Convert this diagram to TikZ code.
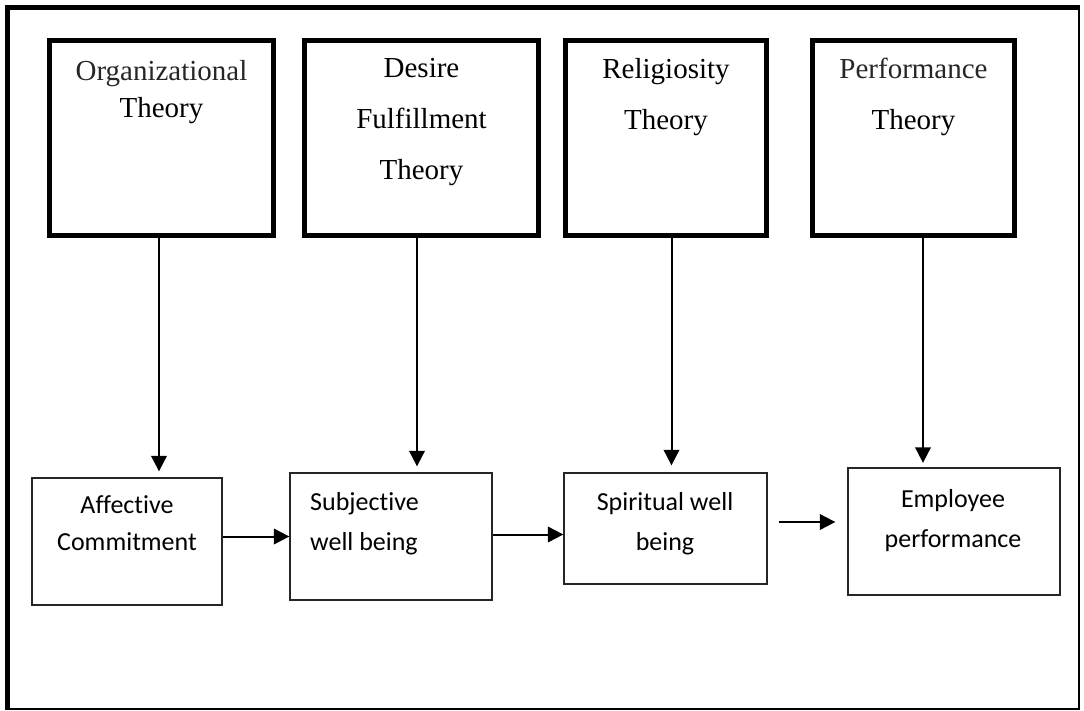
\documentclass[tikz,border=0pt]{standalone}
\usepackage{fontspec}
\setmainfont{Liberation Serif}
\newfontfamily\bodyfont[Ligatures=NoCommon]{Carlito}
\usetikzlibrary{arrows.meta}

\begin{document}
\begin{tikzpicture}[x=1pt,y=-1pt,
  theorybox/.style={draw, line width=5pt, minimum width=#1, minimum height=195pt, inner sep=0pt},
  theorytext/.style={anchor=north, align=center, inner sep=0pt, font=\fontsize{29}{51}\selectfont},
  varbox/.style={draw=black!85, line width=1.3pt, inner sep=0pt},
  vartext/.style={anchor=north, inner sep=0pt, font=\bodyfont\fontsize{26}{40}\selectfont},
  flow/.style={line width=2pt, -{Triangle[length=15.5pt,width=15.5pt]}},
  framethick/.style={line width=5pt},
  framethin/.style={line width=1.8pt}
]
\useasboundingbox (0,0) rectangle (1084,711);

% outer frame: heavy top and left edges, light right and bottom edges
\draw[framethick] (7.5,5) -- (7.5,710.2);
\draw[framethick] (5,7.5) -- (1079.9,7.5);
\draw[framethin] (1079,5) -- (1079,710.2);
\draw[framethin] (5,709.3) -- (1079.9,709.3);

% theory boxes
\node[theorybox=224pt] (t1) at (161.5,138) {};
\node[theorybox=234pt] (t2) at (421.5,138) {};
\node[theorybox=201pt] (t3) at (666,138) {};
\node[theorybox=202pt] (t4) at (913.5,138) {};

\node[theorytext, font=\fontsize{29}{37}\selectfont] (t1txt) at (161.5,60)
  {\textcolor{black!85}{Organizational}\\Theory};
\node[theorytext] (t2txt) at (421.5,58) {Desire\\Fulfillment\\Theory};
\node[theorytext] (t3txt) at (666,58) {Religiosity\\Theory};
\node[theorytext] (t4txt) at (913.5,58) {\textcolor{black!85}{Performance}\\Theory};

% construct boxes
\node[varbox, minimum width=190pt, minimum height=127pt] (A) at (127,541.5) {};
\node[varbox, minimum width=202pt, minimum height=127pt] (B) at (391,536.5) {};
\node[varbox, minimum width=203pt, minimum height=111pt] (C) at (665.5,528.5) {};
\node[varbox, minimum width=212pt, minimum height=127pt] (D) at (954,531.5) {};

\node[vartext, align=center, font=\bodyfont\fontsize{26}{37}\selectfont] (Atxt) at (127,495) {Affective\\Commitment};
\node[vartext, align=left, anchor=north west] (Btxt) at (310,492) {Subjective\\well being};
\node[vartext, align=center] (Ctxt) at (665,492) {Spiritual well\\being};
\node[vartext, align=center] (Dtxt) at (953,489) {Employee\\performance};

% theory-to-construct arrows
\draw[flow] ([xshift=-2.5pt]t1.south) -- ([xshift=-2.5pt,yshift=6pt]t1.south |- A.north);
\draw[flow] ([xshift=-4.5pt]t2.south) -- ([xshift=-4.5pt,yshift=6pt]t2.south |- B.north);
\draw[flow] ([xshift=5.5pt]t3.south) -- ([xshift=5.5pt,yshift=7pt]t3.south |- C.north);
\draw[flow] ([xshift=9.5pt]t4.south) -- ([xshift=9.5pt,yshift=4.5pt]t4.south |- D.north);

% construct chain
\draw[flow] (A.east |- B.west) -- (B.west);
\draw[flow] ([yshift=2pt]B.east) -- ([yshift=2pt]B.east -| C.west);
\draw[flow] ([xshift=11pt,yshift=6.5pt]C.east) -- ([xshift=-12pt,yshift=6.5pt]C.east -| D.west);
\end{tikzpicture}
\end{document}
